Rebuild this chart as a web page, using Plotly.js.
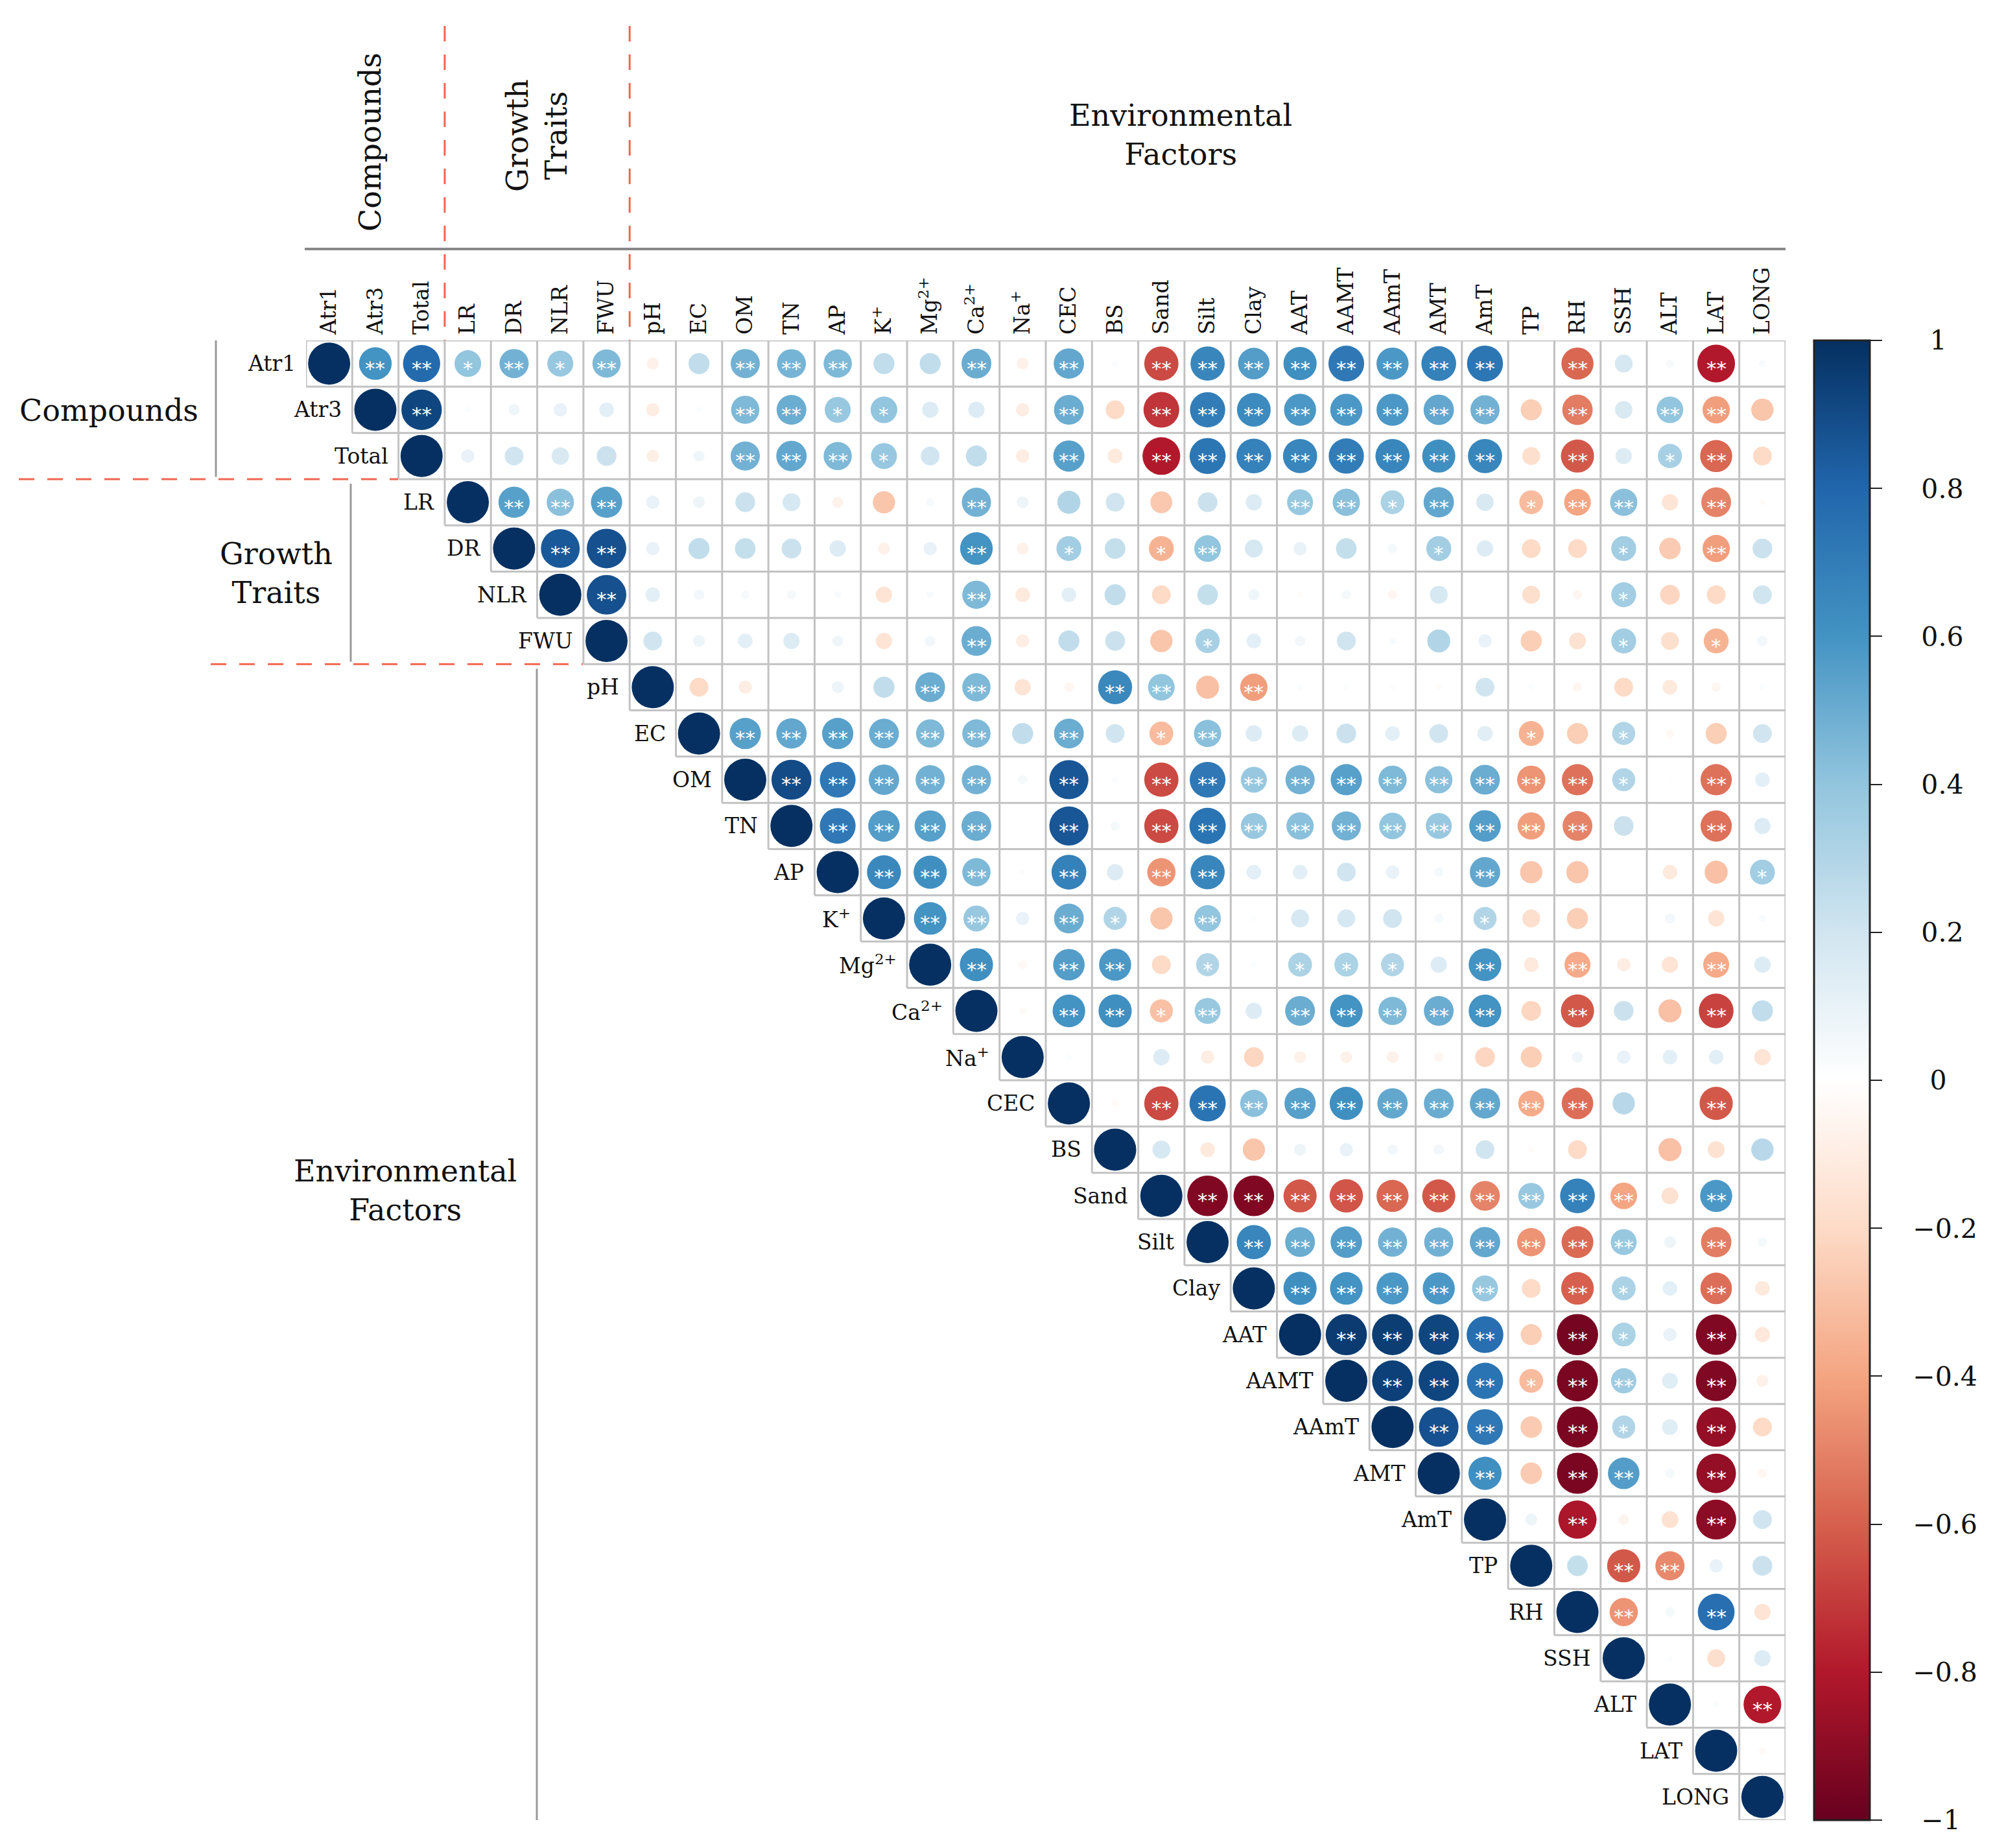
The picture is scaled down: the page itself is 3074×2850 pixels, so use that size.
<!DOCTYPE html>
<html><head><meta charset="utf-8">
<script src="https://cdn.plot.ly/plotly-3.0.1.min.js"></script>
<style>html,body{margin:0;padding:0;background:#fff}</style>
</head><body>
<div id="chart" style="width:3074px;height:2850px"></div>
<script>
// ---------------- DATA ----------------
const variables = ["Atr1","Atr3","Total","LR","DR","NLR","FWU","pH","EC","OM","TN","AP","K+","Mg2+","Ca2+","Na+","CEC","BS","Sand","Silt","Clay","AAT","AAMT","AAmT","AMT","AmT","TP","RH","SSH","ALT","LAT","LONG"];
const tickLabels = ["Atr1","Atr3","Total","LR","DR","NLR","FWU","pH","EC","OM","TN","AP","K<sup>+</sup>","Mg<sup>2+</sup>","Ca<sup>2+</sup>","Na<sup>+</sup>","CEC","BS","Sand","Silt","Clay","AAT","AAMT","AAmT","AMT","AmT","TP","RH","SSH","ALT","LAT","LONG"];

// correlation of each variable with the variables that follow it (upper triangle, row by row)
const r_Atr1 = [0.60,0.78,0.40,0.48,0.38,0.45,-0.08,0.25,0.48,0.47,0.45,0.25,0.25,0.50,-0.08,0.52,0.02,-0.66,0.66,0.56,0.62,0.72,0.58,0.68,0.73,0.01,-0.58,0.18,0.04,-0.80,0.03];
const r_Atr3 = [0.92,0.02,0.07,0.10,0.12,-0.10,0.02,0.45,0.50,0.38,0.40,0.15,0.15,-0.10,0.50,-0.20,-0.72,0.70,0.64,0.58,0.58,0.58,0.52,0.48,-0.25,-0.52,0.17,0.40,-0.42,-0.28];
const r_Total = [0.10,0.20,0.17,0.22,-0.09,0.07,0.48,0.52,0.45,0.38,0.20,0.25,-0.10,0.55,-0.12,-0.80,0.73,0.68,0.66,0.70,0.66,0.62,0.66,-0.18,-0.62,0.15,0.33,-0.58,-0.20];
const r_LR = [0.55,0.42,0.55,0.10,0.08,0.22,0.18,-0.07,-0.28,0.04,0.48,0.08,0.30,0.20,-0.27,0.22,0.15,0.38,0.42,0.32,0.52,0.17,-0.32,-0.40,0.42,-0.15,-0.50,-0.02];
const r_DR = [0.85,0.88,0.10,0.25,0.24,0.22,0.15,-0.08,0.10,0.60,-0.08,0.35,0.24,-0.35,0.40,0.18,0.10,0.24,0.05,0.35,0.15,-0.20,-0.20,0.35,-0.26,-0.42,0.22];
const r_NLR = [0.88,0.12,0.06,0.04,0.05,0.03,-0.15,0.03,0.45,-0.12,0.12,0.25,-0.20,0.24,0.07,-0.02,0.05,-0.05,0.18,0.01,-0.18,-0.05,0.35,-0.22,-0.20,0.20];
const r_FWU = [0.20,0.08,0.12,0.15,0.07,-0.15,0.06,0.50,-0.10,0.25,0.22,-0.28,0.33,0.12,0.06,0.20,0.03,0.30,0.10,-0.25,-0.16,0.35,-0.18,-0.35,0.06];
const r_pH = [-0.20,-0.10,0.01,0.08,0.25,0.50,0.45,-0.15,-0.05,0.65,0.40,-0.30,-0.42,0.02,0.02,0.02,-0.02,0.20,0.02,-0.05,-0.20,-0.12,-0.05,0.02];
const r_EC = [0.55,0.52,0.55,0.50,0.45,0.45,0.25,0.50,0.20,-0.32,0.42,0.15,0.15,0.22,0.12,0.20,0.13,-0.35,-0.25,0.30,-0.04,-0.25,0.20];
const r_OM = [0.90,0.72,0.52,0.48,0.48,0.05,0.86,0.02,-0.66,0.72,0.38,0.48,0.55,0.45,0.42,0.50,-0.45,-0.55,0.30,0.01,-0.55,0.12];
const r_TN = [0.72,0.56,0.55,0.50,0.00,0.86,0.05,-0.66,0.74,0.38,0.42,0.48,0.40,0.38,0.56,-0.42,-0.50,0.22,0.01,-0.55,0.15];
const r_AP = [0.65,0.62,0.45,0.02,0.68,0.15,-0.45,0.66,0.12,0.12,0.20,0.10,0.05,0.52,-0.28,-0.28,0.00,-0.12,-0.30,0.35];
const r_K = [0.60,0.38,0.10,0.50,0.30,-0.28,0.40,0.02,0.18,0.18,0.20,0.05,0.30,-0.18,-0.25,0.00,0.06,-0.15,0.03];
const r_Mg = [0.62,-0.04,0.56,0.58,-0.20,0.30,0.02,0.32,0.32,0.30,0.15,0.60,-0.12,-0.38,-0.10,-0.15,-0.38,0.15];
const r_Ca = [-0.03,0.60,0.62,-0.30,0.38,0.15,0.50,0.60,0.45,0.50,0.60,-0.22,-0.62,0.22,-0.30,-0.68,0.25];
const r_Na = [0.02,0.01,0.15,-0.10,-0.22,-0.08,-0.08,-0.08,-0.05,-0.22,-0.25,0.07,0.10,0.12,0.12,-0.15];
const r_CEC = [-0.03,-0.66,0.74,0.42,0.55,0.62,0.52,0.50,0.52,-0.38,-0.56,0.28,0.00,-0.62,0.00];
const r_BS = [0.18,-0.12,-0.28,0.08,0.10,0.06,0.06,0.20,-0.02,-0.20,0.01,-0.30,-0.16,0.28];
const r_Sand = [-0.93,-0.93,-0.62,-0.63,-0.58,-0.62,-0.50,0.38,0.68,-0.40,-0.16,0.58,0.01];
const r_Silt = [0.66,0.50,0.56,0.48,0.48,0.52,-0.45,-0.57,0.38,0.08,-0.52,0.05];
const r_Clay = [0.62,0.60,0.58,0.58,0.38,-0.20,-0.60,0.32,0.12,-0.56,-0.12];
const r_AAT = [0.96,0.95,0.92,0.76,-0.25,-0.96,0.32,0.10,-0.93,-0.13];
const r_AAMT = [0.94,0.92,0.74,-0.32,-0.95,0.36,0.14,-0.93,-0.08];
const r_AAmT = [0.88,0.72,-0.26,-0.95,0.30,0.14,-0.88,-0.20];
const r_AMT = [0.62,-0.26,-0.95,0.56,0.05,-0.88,-0.05];
const r_AmT = [0.08,-0.82,-0.06,-0.16,-0.90,0.20];
const r_TP = [0.24,-0.62,-0.48,0.10,0.22];
const r_RH = [-0.45,0.05,0.76,-0.15];
const r_SSH = [0.02,-0.18,0.15];
const r_ALT = [0.02,-0.80];
const r_LAT = [-0.03];

// significance level of the same cells: 0 = none, 1 = "*", 2 = "**"
const s_Atr1 = [2,2,1,2,1,2,0,0,2,2,2,0,0,2,0,2,0,2,2,2,2,2,2,2,2,0,2,0,0,2,0];
const s_Atr3 = [2,0,0,0,0,0,0,2,2,1,1,0,0,0,2,0,2,2,2,2,2,2,2,2,0,2,0,2,2,0];
const s_Total = [0,0,0,0,0,0,2,2,2,1,0,0,0,2,0,2,2,2,2,2,2,2,2,0,2,0,1,2,0];
const s_LR = [2,2,2,0,0,0,0,0,0,0,2,0,0,0,0,0,0,2,2,1,2,0,1,2,2,0,2,0];
const s_DR = [2,2,0,0,0,0,0,0,0,2,0,1,0,1,2,0,0,0,0,1,0,0,0,1,0,2,0];
const s_NLR = [2,0,0,0,0,0,0,0,2,0,0,0,0,0,0,0,0,0,0,0,0,0,1,0,0,0];
const s_FWU = [0,0,0,0,0,0,0,2,0,0,0,0,1,0,0,0,0,0,0,0,0,1,0,1,0];
const s_pH = [0,0,0,0,0,2,2,0,0,2,2,0,2,0,0,0,0,0,0,0,0,0,0,0];
const s_EC = [2,2,2,2,2,2,0,2,0,1,2,0,0,0,0,0,0,1,0,1,0,0,0];
const s_OM = [2,2,2,2,2,0,2,0,2,2,2,2,2,2,2,2,2,2,1,0,2,0];
const s_TN = [2,2,2,2,0,2,0,2,2,2,2,2,2,2,2,2,2,0,0,2,0];
const s_AP = [2,2,2,0,2,0,2,2,0,0,0,0,0,2,0,0,0,0,0,1];
const s_K = [2,2,0,2,1,0,2,0,0,0,0,0,1,0,0,0,0,0,0];
const s_Mg = [2,0,2,2,0,1,0,1,1,1,0,2,0,2,0,0,2,0];
const s_Ca = [0,2,2,1,2,0,2,2,2,2,2,0,2,0,0,2,0];
const s_Na = [0,0,0,0,0,0,0,0,0,0,0,0,0,0,0,0];
const s_CEC = [0,2,2,2,2,2,2,2,2,2,2,0,0,2,0];
const s_BS = [0,0,0,0,0,0,0,0,0,0,0,0,0,0];
const s_Sand = [2,2,2,2,2,2,2,2,2,2,0,2,0];
const s_Silt = [2,2,2,2,2,2,2,2,2,0,2,0];
const s_Clay = [2,2,2,2,2,0,2,1,0,2,0];
const s_AAT = [2,2,2,2,0,2,1,0,2,0];
const s_AAMT = [2,2,2,1,2,2,0,2,0];
const s_AAmT = [2,2,0,2,1,0,2,0];
const s_AMT = [2,0,2,2,0,2,0];
const s_AmT = [0,2,0,0,2,0];
const s_TP = [0,2,2,0,0];
const s_RH = [2,0,2,0];
const s_SSH = [0,0,0];
const s_ALT = [0,2];
const s_LAT = [0];

const colorbarTicks = [-1,-0.8,-0.6,-0.4,-0.2,0,0.2,0.4,0.6,0.8,1];
const colorbarLabels = ["\u22121","\u22120.8","\u22120.6","\u22120.4","\u22120.2","0","0.2","0.4","0.6","0.8","1"];

// ---------------- BUILD ----------------
const corrRows = [r_Atr1,r_Atr3,r_Total,r_LR,r_DR,r_NLR,r_FWU,r_pH,r_EC,r_OM,r_TN,r_AP,r_K,r_Mg,r_Ca,r_Na,r_CEC,r_BS,r_Sand,r_Silt,r_Clay,r_AAT,r_AAMT,r_AAmT,r_AMT,r_AmT,r_TP,r_RH,r_SSH,r_ALT,r_LAT];
const sigRows = [s_Atr1,s_Atr3,s_Total,s_LR,s_DR,s_NLR,s_FWU,s_pH,s_EC,s_OM,s_TN,s_AP,s_K,s_Mg,s_Ca,s_Na,s_CEC,s_BS,s_Sand,s_Silt,s_Clay,s_AAT,s_AAMT,s_AAmT,s_AMT,s_AmT,s_TP,s_RH,s_SSH,s_ALT,s_LAT];

const N = variables.length;
const L = 472, R = 320, T = 525, B = 43, W = 3074, H = 2850;
const PW = W - L - R, PH = H - T - B;
const px2x = p => (p - L) / PW;
const px2y = p => (H - B - p) / PH;

const FONT = "DejaVu Serif";
const FULL = 65;
const LABEL_SIZE = 33;

const xs = [], ys = [], cs = [], ss = [];
const annotations = [];
for (let i = 0; i < N; i++) {
  xs.push(i); ys.push(i); cs.push(1); ss.push(FULL);
  const row = corrRows[i] || [];
  const sig = sigRows[i] || [];
  for (let k = 0; k < row.length; k++) {
    const j = i + 1 + k;
    const v = row[k];
    xs.push(j); ys.push(i); cs.push(v); ss.push(FULL * Math.sqrt(Math.abs(v)));
    if (sig[k] > 0) {
      annotations.push({x: j, y: i, xref: 'x', yref: 'y', text: sig[k] === 2 ? '**' : '*',
        showarrow: false, yshift: -7, font: {family: 'DejaVu Sans', size: 31, color: '#ffffff'}});
    }
  }
  // row label next to the diagonal
  annotations.push({x: i - 0.5, y: i, xref: 'x', yref: 'y', text: tickLabels[i], xanchor: 'right',
    xshift: -14, showarrow: false, font: {family: FONT, size: LABEL_SIZE, color: '#111'}});
}

// centre the colour-bar labels on a common axis (as in the reference) with fixed-width spaces
const CB_SIZE = 41;
const cbWidth = t => {
  let w = 0;
  for (const ch of t) w += ch === '\u2212' ? 0.838 : ch === '.' ? 0.318 : 0.636;
  return w;
};
const maxW = Math.max(...colorbarLabels.map(cbWidth));
const padLabel = t => {
  let need = (maxW - cbWidth(t)) / 2 + 0.9; // em
  let s = '';
  while (need >= 0.6) { s += '\u2007'; need -= 0.636; }
  while (need >= 0.25) { s += '\u2008'; need -= 0.318; }
  return s + t;
};

const rdbu = ["#67001F","#B2182B","#D6604D","#F4A582","#FDDBC7","#FFFFFF","#D1E5F0","#92C5DE","#4393C3","#2166AC","#053061"];
const colorscale = rdbu.map((c, k) => [k / (rdbu.length - 1), c]);

const trace = {
  type: 'scatter', mode: 'markers', x: xs, y: ys, hoverinfo: 'skip',
  marker: {
    size: ss, sizemode: 'diameter', color: cs, cmin: -1, cmax: 1, colorscale: colorscale,
    line: {width: 0}, opacity: 1,
    showscale: true,
    colorbar: {
      x: px2x(2798), xanchor: 'left', xpad: 0, ypad: 0,
      y: 0.5, yanchor: 'middle', len: 1, lenmode: 'fraction', thickness: 86,
      outlinewidth: 3, outlinecolor: '#222',
      tickmode: 'array', tickvals: colorbarTicks, ticktext: colorbarLabels.map(padLabel),
      ticks: 'outside', ticklen: 18, tickwidth: 2, tickcolor: '#222',
      tickfont: {family: FONT, size: CB_SIZE, color: '#111'}
    }
  }
};

// grid lines of the upper triangle
const shapes = [];
const gridStyle = {color: '#c2c2c2', width: 3};
for (let k = 0; k <= N; k++) {
  const x0 = Math.max(k - 1, 0) - 0.5;
  shapes.push({type: 'line', xref: 'x', yref: 'y', x0: x0, x1: N - 0.5, y0: k - 0.5, y1: k - 0.5, line: gridStyle, layer: 'below'});
  const y1 = Math.min(k, N - 1) + 0.5;
  shapes.push({type: 'line', xref: 'x', yref: 'y', x0: k - 0.5, x1: k - 0.5, y0: -0.5, y1: y1, line: gridStyle, layer: 'below'});
}
// group decorations
const red = {color: '#f26552', width: 3, dash: '24px,20px'};
const gray = {color: '#9a9a9a', width: 3};
shapes.push({type: 'line', xref: 'paper', yref: 'paper', x0: px2x(470), x1: px2x(2754), y0: px2y(384), y1: px2y(384), line: {color: '#888', width: 4}});
shapes.push({type: 'line', xref: 'x', yref: 'paper', x0: 2.5, x1: 2.5, y0: px2y(40), y1: 1, line: red});
shapes.push({type: 'line', xref: 'x', yref: 'paper', x0: 6.5, x1: 6.5, y0: px2y(40), y1: 1, line: red});
shapes.push({type: 'line', xref: 'paper', yref: 'y', x0: px2x(29), x1: px2x(614), y0: 2.5, y1: 2.5, line: red});
shapes.push({type: 'line', xref: 'paper', yref: 'y', x0: px2x(325), x1: px2x(899), y0: 6.5, y1: 6.5, line: red});
shapes.push({type: 'line', xref: 'paper', yref: 'y', x0: px2x(333), x1: px2x(333), y0: -0.5, y1: 2.45, line: gray});
shapes.push({type: 'line', xref: 'paper', yref: 'y', x0: px2x(541), x1: px2x(541), y0: 2.6, y1: 6.45, line: gray});
shapes.push({type: 'line', xref: 'paper', yref: 'y', x0: px2x(828), x1: px2x(828), y0: 6.6, y1: 31.5, line: gray});

const groupFont = {family: FONT, size: 46, color: '#111'};
const grp = (px, py, text, angle) => ({xref: 'paper', yref: 'paper', x: px2x(px), y: px2y(py), text: text,
  showarrow: false, textangle: angle || 0, font: groupFont, xanchor: 'center', yanchor: 'middle', align: 'center'});
annotations.push(grp(571, 219, 'Compounds', -90));
annotations.push(grp(828, 209, 'Growth<br>Traits', -90));
annotations.push(grp(1821, 208, 'Environmental<br>Factors'));
annotations.push(grp(168, 633, 'Compounds'));
annotations.push(grp(426, 884, 'Growth<br>Traits'));
annotations.push(grp(625, 1836, 'Environmental<br>Factors'));

const layout = {
  width: W, height: H, margin: {l: L, r: R, t: T, b: B, pad: 0},
  paper_bgcolor: '#fff', plot_bgcolor: '#fff', showlegend: false,
  xaxis: {range: [-0.5, N - 0.5], side: 'top', tickmode: 'array', tickvals: variables.map((_, i) => i),
    ticktext: tickLabels, tickangle: -90, tickfont: {family: FONT, size: LABEL_SIZE, color: '#111'},
    ticklabelstandoff: 8,
    showgrid: false, zeroline: false, showline: false, ticks: '', fixedrange: true},
  yaxis: {range: [N - 0.5, -0.5], showticklabels: false, showgrid: false, zeroline: false, showline: false, ticks: '', fixedrange: true},
  shapes: shapes, annotations: annotations
};

Plotly.newPlot('chart', [trace], layout, {staticPlot: true, displayModeBar: false});
</script>
</body></html>
